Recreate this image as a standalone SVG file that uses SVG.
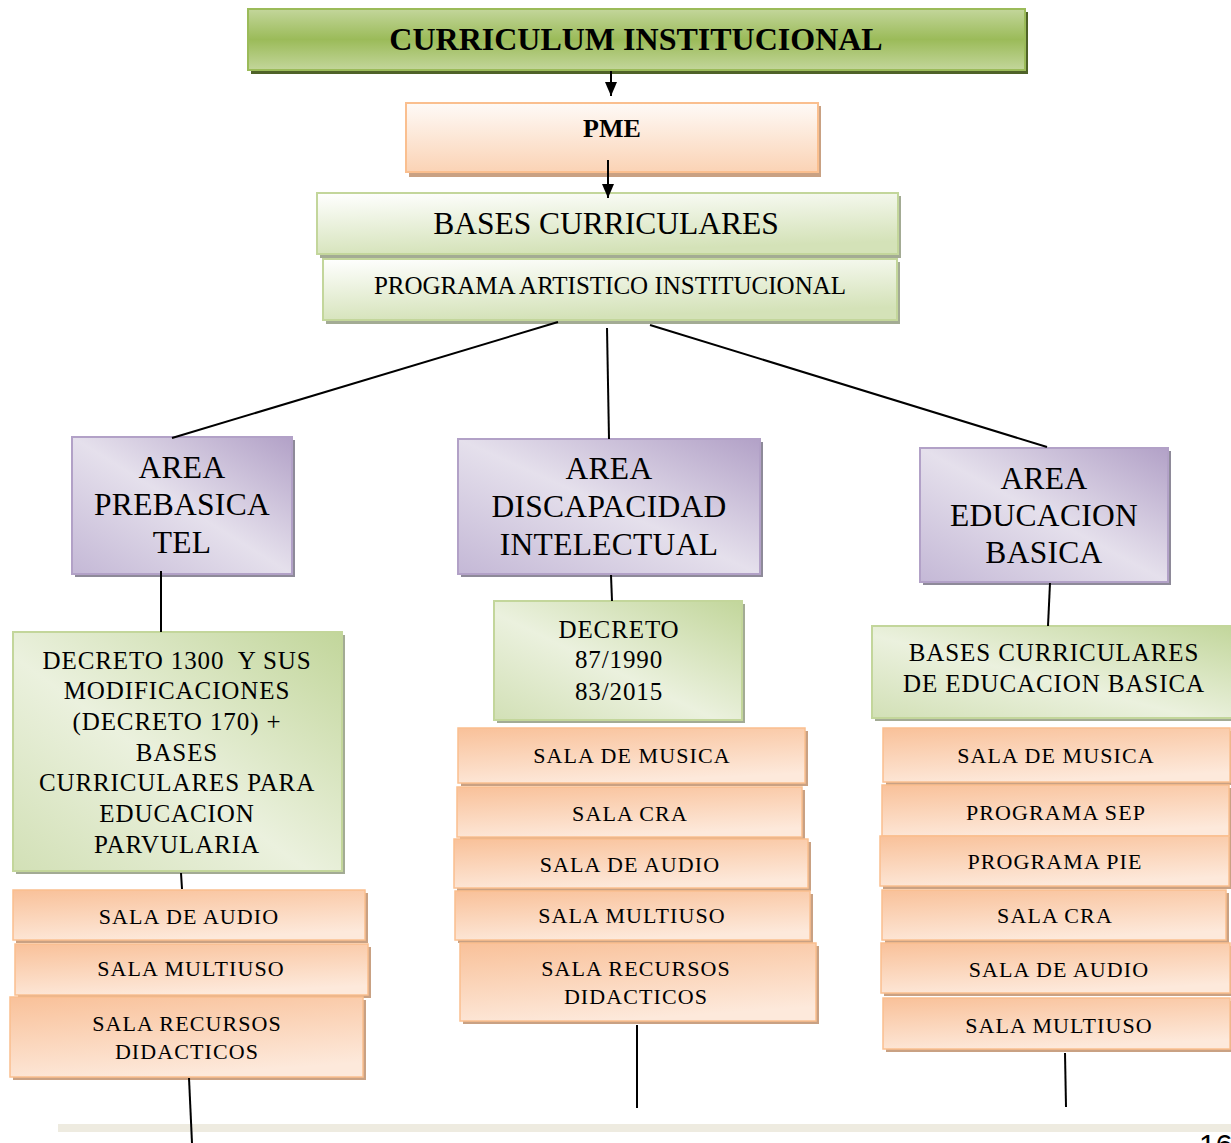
<svg xmlns="http://www.w3.org/2000/svg" width="1231" height="1143" viewBox="0 0 1231 1143">
<defs>
<linearGradient id="gTitle" x1="0" y1="0" x2="0" y2="1">
<stop offset="0" stop-color="#c3d69b"/><stop offset="0.5" stop-color="#9bbb59"/><stop offset="1" stop-color="#c3d69b"/>
</linearGradient>
<linearGradient id="gPme" x1="0" y1="0" x2="0" y2="1">
<stop offset="0" stop-color="#fefaf7"/><stop offset="1" stop-color="#fbd3b5"/>
</linearGradient>
<linearGradient id="gLight" x1="0" y1="0" x2="0.3" y2="1">
<stop offset="0" stop-color="#ffffff"/><stop offset="1" stop-color="#d4e2b8"/>
</linearGradient>
<linearGradient id="gGreen" x1="1" y1="0" x2="0" y2="1">
<stop offset="0" stop-color="#c2d69b"/><stop offset="0.55" stop-color="#ebf1de"/><stop offset="1" stop-color="#d2e0b6"/>
</linearGradient>
<linearGradient id="gPurple" x1="1" y1="0" x2="0" y2="1">
<stop offset="0" stop-color="#b2a1c7"/><stop offset="0.5" stop-color="#e5e0ec"/><stop offset="1" stop-color="#c4b8d6"/>
</linearGradient>
<linearGradient id="gOrange" x1="0.1" y1="0" x2="0.4" y2="1">
<stop offset="0" stop-color="#f9c29b"/><stop offset="1" stop-color="#fde9db"/>
</linearGradient>
<marker id="arr" viewBox="0 0 14 12" refX="14" refY="6" markerWidth="14" markerHeight="12" orient="auto" markerUnits="userSpaceOnUse">
<path d="M0,0 L14,6 L0,12 z" fill="#000"/>
</marker>
<style>
text{font-family:"Liberation Serif","Times New Roman",serif;fill:#000;text-anchor:middle}
.b{font-weight:bold}
.title .box{fill:url(#gTitle);stroke:#9bbb59;stroke-width:2}
.title .sh{fill:#4f6228}
.pme .box{fill:url(#gPme);stroke:#fabf8f;stroke-width:2}
.or .box{fill:url(#gOrange);stroke:#fabf8f;stroke-width:1.5}
.or .sh,.pme .sh{fill:#c9a183}
.lg .box{fill:url(#gLight);stroke:#c3d69b;stroke-width:2}
.gr .box{fill:url(#gGreen);stroke:#c3d69b;stroke-width:2}
.lg .sh,.gr .sh{fill:#a3ab94}
.pu .box{fill:url(#gPurple);stroke:#b2a1c7;stroke-width:2}
.pu .sh{fill:#8e8a99}
.conn line{stroke:#000;stroke-width:2}
.sala{font-size:22px;letter-spacing:1.1px}
.dec{font-size:25px;letter-spacing:0.9px}
.area{font-size:31.5px;letter-spacing:0.3px}
</style>
</defs>
<rect width="1231" height="1143" fill="#fff"/>
<rect x="58" y="1124" width="1173" height="8" fill="#eeebe0"/>
<text x="1199" y="1155" style="font-family:'Liberation Sans',Arial,sans-serif;font-size:30px;text-anchor:start">16</text>

<g id="n-curriculum" class="title">
<rect class="sh" x="251" y="12" width="777" height="62"/>
<rect class="box" x="248" y="9" width="777" height="61"/>
<text class="b" x="636" y="50" font-size="32">CURRICULUM INSTITUCIONAL</text>
</g>
<g id="n-pme" class="pme">
<rect class="sh" x="409" y="106" width="412" height="71"/>
<rect class="box" x="406" y="103" width="412" height="69"/>
<text class="b" x="612" y="137" font-size="26">PME</text>
</g>
<g id="n-bases" class="lg">
<rect class="sh" x="320" y="196" width="581" height="62"/>
<rect class="box" x="317" y="193" width="581" height="61"/>
<text x="606" y="234" font-size="31.5">BASES CURRICULARES</text>
</g>
<g id="n-programa" class="lg">
<rect class="sh" x="326" y="262" width="574" height="62"/>
<rect class="box" x="323" y="259" width="574" height="61"/>
<text x="610" y="294" font-size="25">PROGRAMA ARTISTICO INSTITUCIONAL</text>
</g>

<g id="n-area-prebasica" class="pu">
<rect class="sh" x="75" y="440" width="220" height="137"/>
<rect class="box" x="72" y="437" width="220" height="137"/>
<text class="area" x="182" y="478">AREA</text>
<text class="area" x="182" y="515">PREBASICA</text>
<text class="area" x="182" y="553">TEL</text>
</g>
<g id="n-area-discapacidad" class="pu">
<rect class="sh" x="461" y="442" width="302" height="135"/>
<rect class="box" x="458" y="439" width="302" height="135"/>
<text class="area" x="609" y="479">AREA</text>
<text class="area" x="609" y="517">DISCAPACIDAD</text>
<text class="area" x="609" y="555">INTELECTUAL</text>
</g>
<g id="n-area-basica" class="pu">
<rect class="sh" x="923" y="451" width="248" height="134"/>
<rect class="box" x="920" y="448" width="248" height="134"/>
<text class="area" x="1044" y="489">AREA</text>
<text class="area" x="1044" y="526">EDUCACION</text>
<text class="area" x="1044" y="563">BASICA</text>
</g>

<g id="n-decreto1300" class="gr">
<rect class="sh" x="16" y="635" width="329" height="239"/>
<rect class="box" x="13" y="632" width="329" height="239"/>
<text class="dec" x="177" y="669">DECRETO 1300&#160; Y SUS</text>
<text class="dec" x="177" y="699">MODIFICACIONES</text>
<text class="dec" x="177" y="730">(DECRETO 170) +</text>
<text class="dec" x="177" y="761">BASES</text>
<text class="dec" x="177" y="791">CURRICULARES PARA</text>
<text class="dec" x="177" y="822">EDUCACION</text>
<text class="dec" x="177" y="853">PARVULARIA</text>
</g>
<g id="n-l-audio" class="or">
<rect class="sh" x="16" y="893" width="352" height="50"/>
<rect class="box" x="13" y="890" width="352" height="50"/>
<text class="sala" x="189" y="924">SALA DE AUDIO</text>
</g>
<g id="n-l-multiuso" class="or">
<rect class="sh" x="18" y="947" width="353" height="51"/>
<rect class="box" x="15" y="944" width="353" height="51"/>
<text class="sala" x="191" y="976">SALA MULTIUSO</text>
</g>
<g id="n-l-recursos" class="or">
<rect class="sh" x="13" y="1000" width="353" height="80"/>
<rect class="box" x="10" y="997" width="353" height="80"/>
<text class="sala" x="187" y="1031">SALA RECURSOS</text>
<text class="sala" x="187" y="1059">DIDACTICOS</text>
</g>

<g id="n-decreto87" class="gr">
<rect class="sh" x="497" y="604" width="248" height="119"/>
<rect class="box" x="494" y="601" width="248" height="119"/>
<text class="dec" x="619" y="638">DECRETO</text>
<text class="dec" x="619" y="668">87/1990</text>
<text class="dec" x="619" y="700">83/2015</text>
</g>
<g id="n-m-musica" class="or">
<rect class="sh" x="461" y="731" width="347" height="55"/>
<rect class="box" x="458" y="728" width="347" height="55"/>
<text class="sala" x="632" y="763">SALA DE MUSICA</text>
</g>
<g id="n-m-cra" class="or">
<rect class="sh" x="460" y="790" width="345" height="50"/>
<rect class="box" x="457" y="787" width="345" height="50"/>
<text class="sala" x="630" y="821">SALA CRA</text>
</g>
<g id="n-m-audio" class="or">
<rect class="sh" x="457" y="842" width="354" height="49"/>
<rect class="box" x="454" y="839" width="354" height="49"/>
<text class="sala" x="630" y="872">SALA DE AUDIO</text>
</g>
<g id="n-m-multiuso" class="or">
<rect class="sh" x="458" y="894" width="355" height="49"/>
<rect class="box" x="455" y="891" width="355" height="49"/>
<text class="sala" x="632" y="923">SALA MULTIUSO</text>
</g>
<g id="n-m-recursos" class="or">
<rect class="sh" x="463" y="946" width="356" height="78"/>
<rect class="box" x="460" y="943" width="356" height="78"/>
<text class="sala" x="636" y="976">SALA RECURSOS</text>
<text class="sala" x="636" y="1004">DIDACTICOS</text>
</g>

<g id="n-bases-basica" class="gr">
<rect class="sh" x="875" y="629" width="359" height="92"/>
<rect class="box" x="872" y="626" width="362" height="92"/>
<text class="dec" x="1054" y="661">BASES CURRICULARES</text>
<text class="dec" x="1054" y="692">DE EDUCACION BASICA</text>
</g>
<g id="n-r-musica" class="or">
<rect class="sh" x="886" y="731" width="347" height="54"/>
<rect class="box" x="883" y="728" width="347" height="54"/>
<text class="sala" x="1056" y="763">SALA DE MUSICA</text>
</g>
<g id="n-r-sep" class="or">
<rect class="sh" x="885" y="788" width="347" height="51"/>
<rect class="box" x="882" y="785" width="347" height="51"/>
<text class="sala" x="1056" y="820">PROGRAMA SEP</text>
</g>
<g id="n-r-pie" class="or">
<rect class="sh" x="883" y="839" width="349" height="50"/>
<rect class="box" x="880" y="836" width="349" height="50"/>
<text class="sala" x="1055" y="869">PROGRAMA PIE</text>
</g>
<g id="n-r-cra" class="or">
<rect class="sh" x="885" y="893" width="344" height="50"/>
<rect class="box" x="882" y="890" width="344" height="50"/>
<text class="sala" x="1055" y="923">SALA CRA</text>
</g>
<g id="n-r-audio" class="or">
<rect class="sh" x="884" y="946" width="349" height="50"/>
<rect class="box" x="881" y="943" width="349" height="50"/>
<text class="sala" x="1059" y="977">SALA DE AUDIO</text>
</g>
<g id="n-r-multiuso" class="or">
<rect class="sh" x="886" y="1001" width="347" height="51"/>
<rect class="box" x="883" y="998" width="347" height="51"/>
<text class="sala" x="1059" y="1033">SALA MULTIUSO</text>
</g>

<g id="connectors" class="conn">
<line x1="611" y1="71" x2="611" y2="96" marker-end="url(#arr)"/>
<line x1="608" y1="160" x2="608" y2="198" marker-end="url(#arr)"/>
<line x1="558" y1="322" x2="172" y2="438"/>
<line x1="607" y1="328" x2="609" y2="439"/>
<line x1="650" y1="325" x2="1047" y2="447"/>
<line x1="161" y1="571" x2="161" y2="632"/>
<line x1="611" y1="575" x2="612" y2="601"/>
<line x1="1050" y1="583" x2="1048" y2="626"/>
<line x1="181" y1="873" x2="182" y2="889"/>
<line x1="189" y1="1078" x2="192" y2="1143"/>
<line x1="637" y1="1025" x2="637" y2="1108"/>
<line x1="1065" y1="1053" x2="1066" y2="1107"/>
</g>
</svg>
